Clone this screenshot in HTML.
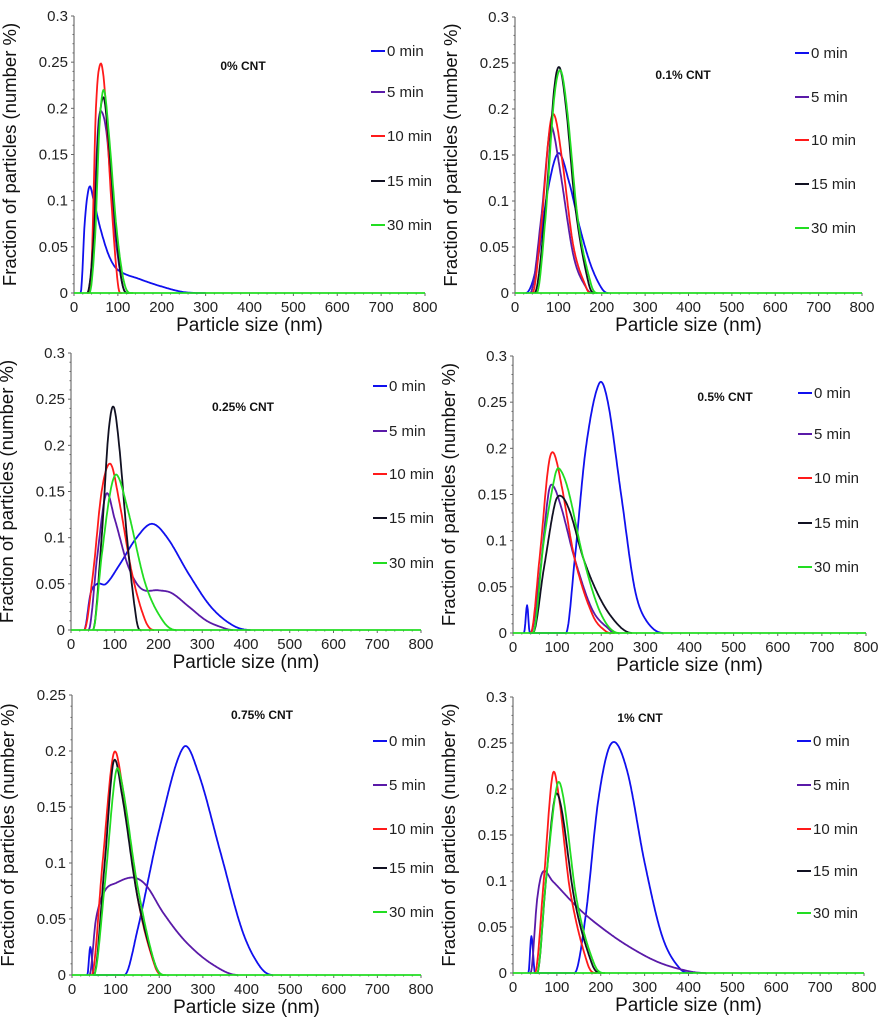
<!DOCTYPE html>
<html><head><meta charset="utf-8"><style>
html,body{margin:0;padding:0;background:#fff}
svg{display:block;font-family:"Liberation Sans",sans-serif}
</style></head><body>
<svg id="fig" width="884" height="1024" viewBox="0 0 884 1024"></svg>
<script>
const seriesNames = ["0 min","5 min","10 min","15 min","30 min"];
const colors = ["#1010ee","#5a1aa8","#ff1a1a","#111122","#22dd22"];
const xTicks = [0,100,200,300,400,500,600,700,800];
const panelTitles = ["0% CNT","0.1% CNT","0.25% CNT","0.5% CNT","0.75% CNT","1% CNT"];
const panelYMax = [0.3,0.3,0.3,0.3,0.25,0.3];
// panel data: [x (nm), fraction]
const p0_0=[[15,0],[25,0.08],[35,0.115],[45,0.1],[60,0.07],[80,0.04],[100,0.025],[150,0.015],[200,0.007],[250,0.001],[300,0]];
const p0_1=[[35,0],[45,0.08],[55,0.18],[62,0.197],[75,0.17],[90,0.08],[110,0.01],[125,0]];
const p0_2=[[30,0],[40,0.03],[50,0.2],[60,0.248],[70,0.22],[85,0.1],[100,0.01],[110,0]];
const p0_3=[[30,0],[45,0.06],[55,0.17],[67,0.212],[78,0.17],[95,0.07],[110,0.01],[125,0]];
const p0_4=[[35,0],[48,0.06],[58,0.18],[68,0.22],[80,0.17],[97,0.07],[115,0.01],[135,0]];
const p1_0=[[25,0],[50,0.03],[75,0.11],[100,0.152],[125,0.12],[150,0.07],[175,0.03],[200,0.005],[215,0]];
const p1_1=[[35,0],[60,0.08],[78,0.17],[86,0.18],[105,0.13],[135,0.04],[165,0.005],[180,0]];
const p1_2=[[40,0],[60,0.07],[80,0.18],[92,0.192],[110,0.14],[135,0.05],[165,0.005],[175,0]];
const p1_3=[[45,0],[70,0.09],[90,0.22],[103,0.245],[118,0.2],[140,0.09],[170,0.01],[185,0]];
const p1_4=[[50,0],[70,0.08],[90,0.21],[105,0.242],[120,0.2],[145,0.08],[175,0.01],[190,0]];
const p2_0=[[30,0],[45,0.04],[60,0.05],[80,0.05],[110,0.07],[150,0.1],[185,0.115],[220,0.1],[270,0.06],[320,0.025],[370,0.005],[410,0]];
const p2_1=[[40,0],[60,0.08],[80,0.147],[100,0.12],[130,0.07],[160,0.045],[200,0.043],[230,0.04],[270,0.025],[310,0.01],[350,0.002],[370,0]];
const p2_2=[[30,0],[50,0.06],[70,0.15],[90,0.18],[110,0.14],[140,0.06],[170,0.01],[190,0]];
const p2_3=[[50,0],[70,0.1],[85,0.21],[97,0.242],[110,0.2],[130,0.09],[150,0.01],[160,0]];
const p2_4=[[50,0],[70,0.08],[90,0.15],[105,0.168],[130,0.13],[170,0.05],[210,0.01],[240,0]];
const p3_0=[[25,0],[32,0.03],[38,0],[120,0],[140,0.08],[165,0.2],[195,0.27],[215,0.25],[245,0.15],[275,0.05],[300,0.015],[340,0]];
const p3_1=[[40,0],[60,0.06],[80,0.15],[90,0.16],[110,0.135],[140,0.08],[180,0.025],[220,0.003],[230,0]];
const p3_2=[[40,0],[60,0.08],[80,0.18],[92,0.195],[110,0.16],[140,0.08],[180,0.02],[210,0.002],[230,0]];
const p3_3=[[45,0],[70,0.07],[95,0.14],[110,0.148],[130,0.13],[160,0.08],[200,0.035],[240,0.008],[270,0]];
const p3_4=[[45,0],[70,0.1],[95,0.17],[105,0.178],[125,0.155],[160,0.08],[200,0.02],[240,0]];
const p4_0=[[35,0],[42,0.025],[50,0],[120,0],[150,0.04],[200,0.13],[255,0.203],[290,0.18],[340,0.11],[390,0.04],[430,0.008],[460,0]];
const p4_1=[[40,0],[55,0.05],[75,0.075],[100,0.082],[140,0.087],[170,0.08],[210,0.055],[260,0.03],[320,0.01],[380,0]];
const p4_2=[[45,0],[70,0.1],[95,0.197],[115,0.17],[150,0.07],[190,0.008],[210,0]];
const p4_3=[[50,0],[75,0.1],[95,0.19],[115,0.16],[150,0.07],[190,0.01],[210,0]];
const p4_4=[[50,0],[75,0.08],[100,0.18],[115,0.17],[150,0.08],[190,0.01],[215,0]];
const p5_0=[[35,0],[42,0.04],[50,0],[140,0],[165,0.06],[195,0.19],[225,0.25],[260,0.22],[300,0.12],[340,0.04],[380,0.005],[410,0]];
const p5_1=[[40,0],[55,0.08],[68,0.11],[90,0.1],[150,0.07],[200,0.05],[260,0.03],[330,0.012],[400,0.002],[440,0]];
const p5_2=[[50,0],[70,0.1],[90,0.215],[105,0.19],[130,0.09],[170,0.01],[190,0]];
const p5_3=[[55,0],[75,0.1],[95,0.19],[110,0.18],[140,0.08],[180,0.01],[200,0]];
const p5_4=[[55,0],[75,0.1],[100,0.203],[115,0.19],[145,0.08],[185,0.01],[210,0]];
const panelData=[[p0_0,p0_1,p0_2,p0_3,p0_4],[p1_0,p1_1,p1_2,p1_3,p1_4],[p2_0,p2_1,p2_2,p2_3,p2_4],[p3_0,p3_1,p3_2,p3_3,p3_4],[p4_0,p4_1,p4_2,p4_3,p4_4],[p5_0,p5_1,p5_2,p5_3,p5_4]];

const layout=[
 {x0:74,x1:425,y0:293,y1:16,lx:371,ly:[51,92,136,181,225],tx:243,ty:70},
 {x0:515,x1:862,y0:293,y1:17,lx:795,ly:[53,97,140,184,228],tx:683,ty:79},
 {x0:71,x1:421,y0:630,y1:353,lx:373,ly:[386,431,474,518,563],tx:243,ty:411},
 {x0:513,x1:866,y0:633,y1:356,lx:798,ly:[393,434,478,523,567],tx:725,ty:401},
 {x0:72,x1:421,y0:975,y1:695,lx:373,ly:[741,785,829,868,912],tx:262,ty:719},
 {x0:513,x1:864,y0:973,y1:697,lx:797,ly:[741,785,829,871,913],tx:640,ty:722}];
const NS="http://www.w3.org/2000/svg";
const svg=document.getElementById('fig');
function mk(t,a,p){const e=document.createElementNS(NS,t);for(const k in a)e.setAttribute(k,a[k]);(p||svg).appendChild(e);return e;}
function smooth(pts,sx,sy){
 const n=pts.length, m=[];
 for(let i=0;i<n;i++){
  if(pts[i][1]===0||i===0||i===n-1){m.push(0);continue;}
  m.push((pts[i+1][1]-pts[i-1][1])/(pts[i+1][0]-pts[i-1][0]));
 }
 const out=[];
 for(let i=0;i<n-1;i++){
  const [xa,ya]=pts[i],[xb,yb]=pts[i+1],h=xb-xa;
  const steps=Math.max(2,Math.ceil(h/1.5));
  for(let j=0;j<steps;j++){
   const t=j/steps,t2=t*t,t3=t2*t;
   let y=(2*t3-3*t2+1)*ya+(t3-2*t2+t)*h*m[i]+(-2*t3+3*t2)*yb+(t3-t2)*h*m[i+1];
   y=Math.max(0,y);
   out.push(sx(xa+h*t).toFixed(1)+","+sy(y).toFixed(1));
  }
 }
 const l=pts[n-1];out.push(sx(l[0]).toFixed(1)+","+sy(l[1]).toFixed(1));
 return out.join(" ");
}
layout.forEach((L,pi)=>{
 const g=mk('g',{});
 
 
 const ym=panelYMax[pi];
 const sx=v=>L.x0+(L.x1-L.x0)*v/800, sy=v=>L.y0-(L.y0-L.y1)*v/ym;
 const ya=mk('line',{x1:L.x0,y1:L.y1,x2:L.x0,y2:L.y0,stroke:'#555','stroke-width':1},g);
 
 const xa=mk('line',{x1:L.x0,y1:L.y0,x2:L.x1,y2:L.y0,stroke:'#555','stroke-width':1},g);
 
 for(let v=0;v<=800;v+=20){mk('line',{x1:sx(v),y1:L.y0,x2:sx(v),y2:L.y0+(v%100==0?3:1.5),stroke:'#666'},g);}
 const yStep=0.05, nT=Math.round(ym/yStep);
 for(let k=0;k<=nT*5;k++){const v=k*yStep/5;mk('line',{x1:L.x0-(k%5==0?3:1.5),y1:sy(v),x2:L.x0,y2:sy(v),stroke:'#666'},g);}
 for(let k=0;k<=nT;k++){const v=+(k*yStep).toFixed(2);const t=mk('text',{x:L.x0-6,y:sy(v)+5,'text-anchor':'end','font-size':15,fill:'#222'},g);t.textContent=String(v);
  }
 xTicks.forEach(v=>{const t=mk('text',{x:sx(v),y:L.y0+19,'text-anchor':'middle','font-size':15,fill:'#222'},g);t.textContent=v;
  });
 const xt=mk('text',{x:(L.x0+L.x1)/2,y:L.y0+38,'text-anchor':'middle','font-size':19,fill:'#111'},g);xt.textContent='Particle size (nm)';
 
 const yx=L.x0-58, yc=(L.y0+L.y1)/2;
 const yt=mk('text',{x:yx,y:yc,'text-anchor':'middle','font-size':18.5,fill:'#111',transform:`rotate(-90 ${yx} ${yc})`},g);yt.textContent='Fraction of particles (number %)';
 
 const tt=mk('text',{x:L.tx,y:L.ty,'text-anchor':'middle','font-size':12,'font-weight':'bold',fill:'#111'},g);tt.textContent=panelTitles[pi];
 
 panelData[pi].forEach((d,si)=>{
  const pl=mk('polyline',{points:smooth(d,sx,sy),fill:'none',stroke:colors[si],'stroke-width':1.8,'stroke-linejoin':'round'},g);
  
  
 });
 const bl=mk('line',{x1:sx(0),y1:L.y0,x2:sx(800),y2:L.y0,stroke:colors[4],'stroke-width':1.8},g);
 
 
 seriesNames.forEach((n,si)=>{
  const lg=mk('g',{},g);
  
  
  mk('line',{x1:L.lx,y1:L.ly[si],x2:L.lx+14,y2:L.ly[si],stroke:colors[si],'stroke-width':2},lg);
  const t=mk('text',{x:L.lx+16,y:L.ly[si]+5,'font-size':15,fill:'#222'},lg);t.textContent=n;
 });
});
</script>
</body></html>
